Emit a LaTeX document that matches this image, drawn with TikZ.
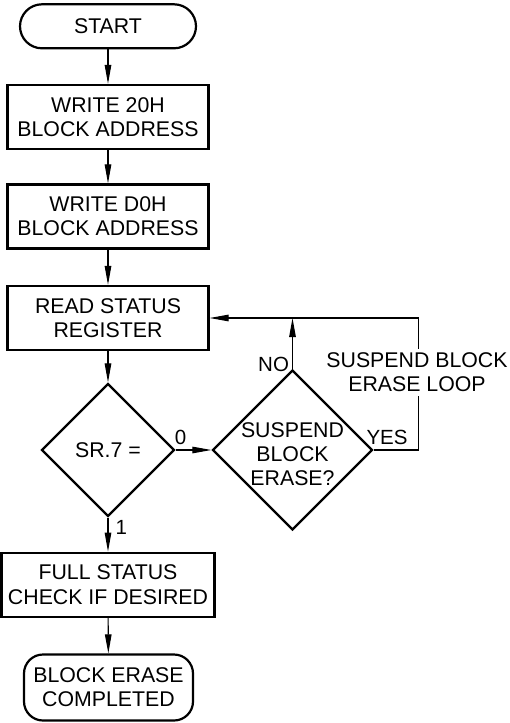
\documentclass[tikz,border=0pt]{standalone}
\usepackage{fontspec}
\setmainfont{Liberation Sans}
\usetikzlibrary{shapes.geometric, arrows.meta}

\begin{document}
\begin{tikzpicture}[x=1pt, y=-1pt,
    font=\fontsize{21.3}{24.3}\selectfont,
    box/.style={line width=2.2pt, draw, rectangle, minimum width=201pt, minimum height=64pt, align=center},
    term/.style={line width=2.2pt, draw, rectangle, rounded corners=19pt, align=center},
    test/.style={line width=2.2pt, draw, diamond, inner sep=0pt, align=center},
    flow/.style={line width=1.1pt, -{Triangle[length=19pt, width=6.5pt]}},
    lbl/.style={font=\fontsize{20.5}{24}\selectfont}]
    \useasboundingbox (0, 0) rectangle (509, 723);

    \node[term, minimum width=176pt, minimum height=44pt, rounded corners=22pt] at (108, 26.3) (start) {START};
    \node[box] at (108, 117) (wr20) {WRITE 20H\\BLOCK ADDRESS};
    \node[box] at (108, 216.5) (wrd0) {WRITE D0H\\BLOCK ADDRESS};
    \node[box] at (108, 318) (rdsr) {READ STATUS\\REGISTER};
    \node[test, minimum width=133pt, minimum height=133pt] at (108, 450) (sr7) {SR.7 =};
    \node[test, minimum width=160pt, minimum height=160pt, label={[align=center, yshift=-4pt]center:SUSPEND\\BLOCK\\ERASE?}] at (292.5, 450) (susp) {};
    \node[box, minimum width=213pt] at (108, 584.7) (full) {FULL STATUS\\CHECK IF DESIRED};
    \node[term, minimum width=169pt, minimum height=66pt] at (108.5, 687.5) (done) {BLOCK ERASE\\COMPLETED};

    \coordinate (nojoin) at (292.5, 318);
    \coordinate (yesc) at (418.3, 450);
    \coordinate (loopc) at (418.3, 318);

    \draw[flow] (start) edge (wr20);
    \draw[flow] (wr20) edge (wrd0);
    \draw[flow] (wrd0) edge (rdsr);
    \draw[flow] (rdsr) edge (sr7);
    \draw[flow] (full) edge (done);
    \draw[flow] (sr7) -- node[lbl, pos=0, above, inner sep=5pt, xshift=5pt] (lbl0) {0} (susp);
    \draw[flow] (sr7) -- node[lbl, pos=0, below right, inner sep=2pt, xshift=5pt] (lbl1) {1} (full);
    \draw[flow] (susp.north) -- node[lbl, pos=0.08, left, inner sep=3pt] (lblno) {NO} (nojoin);
    \draw[flow] (susp.east) -- node[lbl, pos=0.3, above, inner sep=5pt] (lblyes) {YES} (yesc) -- (loopc) -- (rdsr);
    \node[fill=white, align=center] at (417, 372.5) (loopnote) {SUSPEND BLOCK\\ERASE LOOP};
\end{tikzpicture}
\end{document}
